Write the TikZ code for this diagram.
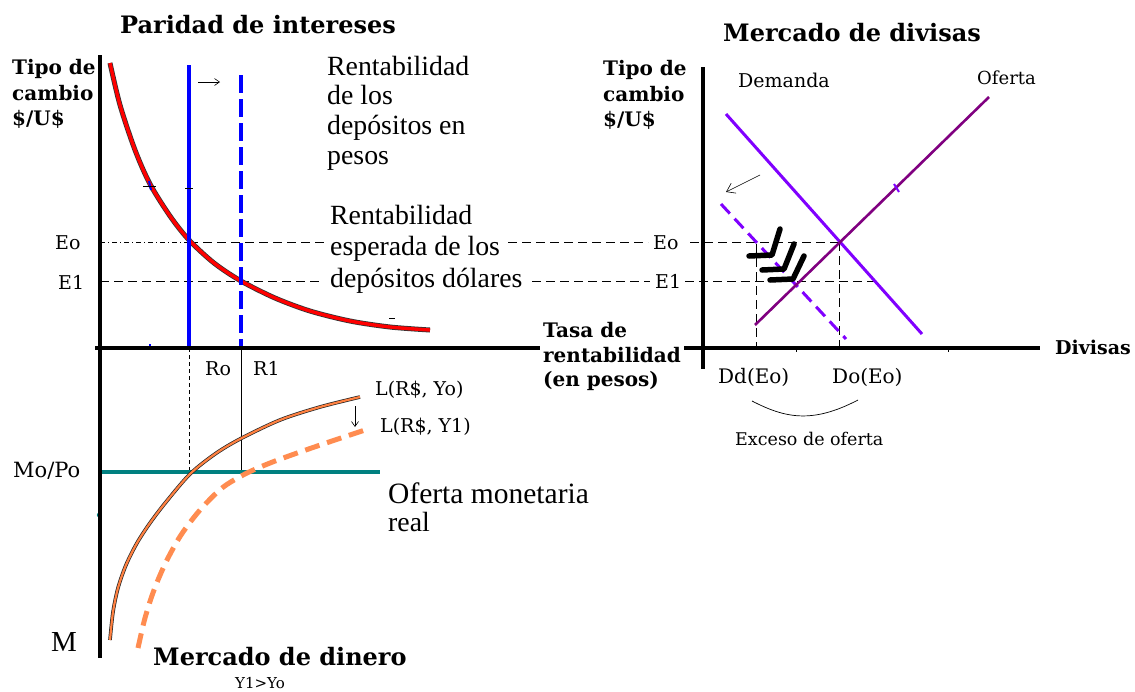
\documentclass[tikz,border=0pt]{standalone}
\usepackage{fontspec}
\setmainfont{DejaVu Serif}
\newfontfamily\tnr{Liberation Serif}
\usetikzlibrary{arrows.meta}
\definecolor{cred}{RGB}{255,0,0}
\definecolor{cblue}{RGB}{0,0,255}
\definecolor{corange}{RGB}{255,128,64}
\definecolor{corangeb}{RGB}{255,140,80}
\definecolor{cteal}{RGB}{0,128,128}
\definecolor{cviolet}{RGB}{128,0,255}
\definecolor{cpurple}{RGB}{128,0,128}
\begin{document}
\begin{tikzpicture}[x=1pt,y=-1pt,
  axisline/.style={line width=4pt,black},
  guide/.style={line width=0.7pt,black,dash pattern=on 9pt off 5pt},
  thinarrow/.style={line width=0.6pt,-{Straight Barb[length=5pt,width=7pt]}},
  lbl/.style={font=\fontsize{19}{21}\selectfont,inner sep=0pt,anchor=base west},
  blbl/.style={font=\fontsize{20}{22}\selectfont\bfseries,inner sep=0pt,anchor=base west},
  ttl/.style={font=\fontsize{24}{26}\selectfont\bfseries,inner sep=0pt,anchor=base west},
  txt/.style={font=\tnr\fontsize{27.8}{30}\selectfont,inner sep=0pt,anchor=base west},
  squig/.style={line width=5.5pt,black,line cap=round,line join=round},
]
\useasboundingbox (0,0) rectangle (1135,691);
\fill[white] (0,0) rectangle (1135,691);

% ---------- coordinates ----------
\coordinate (LA0) at (100,55);  \coordinate (LA1) at (100,658);
\coordinate (HA0) at (95,348);  \coordinate (HA1) at (540,348);
\coordinate (RA0) at (703,67);  \coordinate (RA1) at (703,369);
\coordinate (RH0) at (684,348); \coordinate (RH1) at (1040,348);

% ---------- guide lines ----------
\draw[guide,dash pattern=on 5pt off 3pt on 1pt off 3pt] (100,242) -- (189,242);
\draw[guide] (189,242) -- (325,242);
\draw[guide] (508,242) -- (648,242);
\draw[guide] (690,242) -- (839,242);
\draw[guide] (100,281) -- (322,281);
\draw[guide] (532,281) -- (650,281);
\draw[guide] (685,281) -- (880,281);
\draw[guide] (756,244) -- (756,348);
\draw[guide] (839,242) -- (839,348);
\draw[line width=0.6pt,dash pattern=on 4pt off 3pt] (189,348) -- (189,472);
\draw[line width=0.7pt] (241,348) -- (241,472);

% ---------- upper left panel ----------
\def\redpts{(110,63) (120,105) (135,150) (150,184) (170,216) (189,240) (214,263) (241,281) (275,298) (310,311) (350,321) (390,327) (430,330)}
\draw[line width=5pt,black!80] plot[smooth] coordinates \redpts;
\draw[line width=3.4pt,cred] plot[smooth] coordinates \redpts;
\draw[line width=4pt,cblue] (189,65) -- (189,348);
\draw[line width=3.5pt,cblue,dash pattern=on 18pt off 6pt] (241,75) -- (241,348);
\draw[line width=2pt,cblue] (149,181) -- (151,190);
\draw[line width=0.6pt] (143,186) -- (156,186);
\draw[line width=0.6pt] (185,188) -- (193,188);
\draw[line width=2pt,cblue] (150,344) -- (150,350);
\draw[line width=0.6pt] (389,318) -- (395,318);
\draw[thinarrow] (198,82) -- (220,82);

% ---------- lower left panel ----------
\draw[line width=3.5pt,cteal] (100,472) -- (380,472);
\fill[cteal] (99,515) circle (2.2pt);
\def\lzpts{(110,640) (113,612) (118,588) (126,565) (137,543) (150,523) (166,502) (190,474) (215,454) (240,439) (280,420) (320,407) (360,397)}
\draw[line width=3.6pt,black!85] plot[smooth] coordinates \lzpts;
\draw[line width=2.2pt,corange] plot[smooth] coordinates \lzpts;
\draw[line width=5pt,corangeb,dash pattern=on 15pt off 8pt] plot[smooth] coordinates {(138,648) (145,618) (154,590) (166,562) (181,535) (200,510) (222,488) (245,474) (270,463) (300,452) (335,440) (365,430)};
\draw[thinarrow] (355,406) -- (355,427);

% ---------- right panel ----------
\draw[line width=3pt,cviolet] (726,114) -- (922,334);
\draw[line width=3pt,cviolet,dash pattern=on 13pt off 7pt] (721,204) -- (846,339);
\draw[line width=2.6pt,cpurple] (755,325) -- (989,97);
\draw[line width=2pt,cviolet] (894,184) -- (899,192);
\draw[line width=0.6pt,-{Straight Barb[length=8pt,width=11pt]}] (760,175) -- (726,192);
\draw[squig] (780,229) -- (772,255) -- (749,256);
\draw[squig] (794,244) -- (784,269) -- (762,270);
\draw[squig] (804,256) -- (793,279) -- (770,280);
\draw[line width=0.6pt] (796,346) -- (796,352);
\draw[line width=0.6pt] (948,346) -- (948,352);
\draw[line width=0.7pt] (752,401) .. controls (785,418) and (812,424) .. (858,400);

% ---------- axes ----------
\draw[axisline] (LA0) -- (LA1);
\draw[axisline] (HA0) -- (HA1);
\draw[axisline] (RA0) -- (RA1);
\draw[axisline] (RH0) -- (RH1);

% ---------- texts ----------
\node[ttl] (t1) at (120,33) {Paridad de intereses};
\node[ttl] (t2) at (723,41) {Mercado de divisas};
\node[ttl] (t3) at (153,665) {Mercado de dinero};

\node[blbl] (ya1) at (12,74) {Tipo de};
\node[blbl] (ya2) at (12,100) {cambio};
\node[blbl] (ya3) at (12,125) {\$/U\$};
\node[blbl] (yb1) at (603,75) {Tipo de};
\node[blbl] (yb2) at (603,101) {cambio};
\node[blbl] (yb3) at (603,126) {\$/U\$};
\node[blbl] (xa1) at (543,337) {Tasa de};
\node[blbl] (xa2) at (543,362) {rentabilidad};
\node[blbl] (xa3) at (543,386) {(en pesos)};
\node[blbl,font=\fontsize{19}{21}\selectfont\bfseries] (xb) at (1055,354) {Divisas};

\node[txt] (r1) at (327,75) {Rentabilidad};
\node[txt] (r2) at (327,104) {de los};
\node[txt] (r3) at (327,134) {depósitos en};
\node[txt] (r4) at (327,164) {pesos};
\node[txt] (s1) at (330,224) {Rentabilidad};
\node[txt] (s2) at (330,255) {esperada de los};
\node[txt] (s3) at (330,287) {depósitos dólares};
\node[txt,font=\tnr\fontsize{29.5}{30}\selectfont] (o1) at (388,503) {Oferta monetaria};
\node[txt] (o2) at (388,531) {real};
\node[font=\tnr\fontsize{29}{30}\selectfont,inner sep=0pt,anchor=base west] (mm) at (51,651) {M};

\node[lbl] (eo1) at (55,249) {Eo};
\node[lbl] (e11) at (58,289) {E1};
\node[lbl] (ro) at (205,375) {Ro};
\node[lbl] (r1l) at (253,375) {R1};
\node[lbl,font=\fontsize{21}{23}\selectfont] (mp) at (13,477) {Mo/Po};
\node[lbl] (l0) at (375,395) {L(R\$, Yo)};
\node[lbl] (l1) at (380,432) {L(R\$, Y1)};
\node[lbl,font=\fontsize{15}{17}\selectfont] (yy) at (235,688) {Y1>Yo};
\node[lbl] (eo2) at (653,249) {Eo};
\node[lbl] (e12) at (655,288) {E1};
\node[lbl] (dem) at (738,87) {Demanda};
\node[lbl,font=\fontsize{18}{20}\selectfont] (ofe) at (977,84) {Oferta};
\node[lbl,font=\fontsize{20}{22}\selectfont] (dd) at (718,383) {Dd(Eo)};
\node[lbl,font=\fontsize{20}{22}\selectfont] (do) at (832,383) {Do(Eo)};
\node[lbl,font=\fontsize{17.5}{20}\selectfont] (ex) at (735,445) {Exceso de oferta};
\end{tikzpicture}
\end{document}
